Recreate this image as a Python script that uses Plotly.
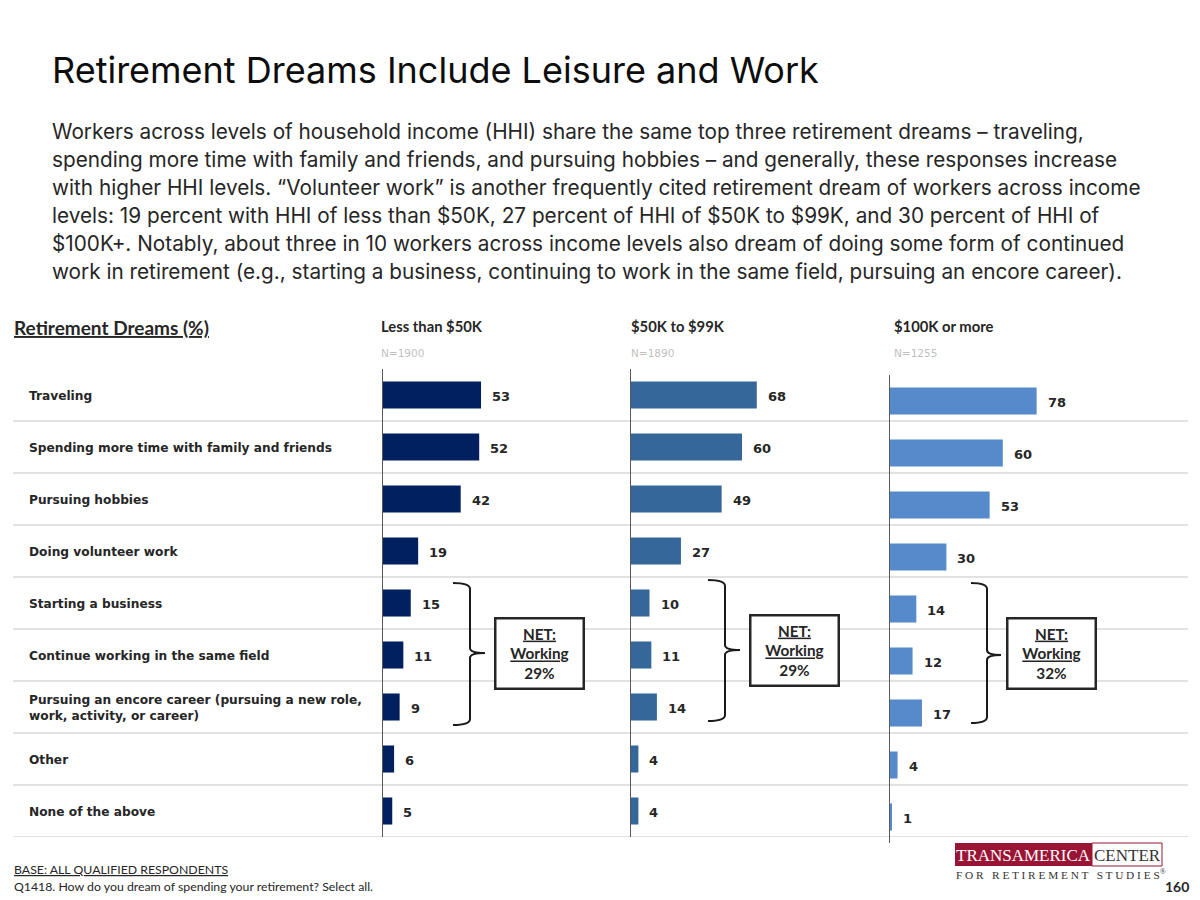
import plotly.graph_objects as go

OFF = 8  # page body margin
W, H = 1200 - OFF, 900 - OFF

categories = [
    "Traveling",
    "Spending more time with family and friends",
    "Pursuing hobbies",
    "Doing volunteer work",
    "Starting a business",
    "Continue working in the same field",
    "Pursuing an encore career (pursuing a new role,<br>work, activity, or career)",
    "Other",
    "None of the above",
]
less_50k = [53, 52, 42, 19, 15, 11, 9, 6, 5]
k50_99 = [68, 60, 49, 27, 10, 11, 14, 4, 4]
k100_plus = [78, 60, 53, 30, 14, 12, 17, 4, 1]
group_names = ["Less than $50K", "$50K to $99K", "$100K or more"]
group_n = ["N=1900", "N=1890", "N=1255"]
net_working = [29, 29, 32]
colors = ["#002060", "#35679B", "#558BCB"]

title = "Retirement Dreams Include Leisure and Work"
paragraph = [
    "Workers across levels of household income (HHI) share the same top three retirement dreams \u2013 traveling,",
    "spending more time with family and friends, and pursuing hobbies \u2013 and generally, these responses increase",
    "with higher HHI levels. \u201cVolunteer work\u201d is another frequently cited retirement dream of workers across income",
    "levels: 19 percent with HHI of less than $50K, 27 percent of HHI of $50K to $99K, and 30 percent of HHI of",
    "$100K+. Notably, about three in 10 workers across income levels also dream of doing some form of continued",
    "work in retirement (e.g., starting a business, continuing to work in the same field, pursuing an encore career).",
]


def px(x):
    return (x - OFF) / W


def py(y):
    return 1 - (y - OFF) / H


series = [less_50k, k50_99, k100_plus]
# layout geometry (pixels, screen coordinates)
x_left = [383, 631, 890]
x_scale = [1.85, 1.85, 1.88]
y_top = [369, 369, 375]
row_h = 52
n = len(categories)

fig = go.Figure()
for i, vals in enumerate(series):
    xa = "x" if i == 0 else f"x{i+1}"
    ya = "y" if i == 0 else f"y{i+1}"
    fig.add_trace(go.Bar(
        x=vals, y=categories, orientation="h", xaxis=xa, yaxis=ya,
        marker=dict(color=colors[i], line=dict(width=0)), width=0.52,
        hoverinfo="skip", showlegend=False,
    ))
    for c, v in zip(categories, vals):
        fig.add_annotation(
            x=v, y=c, xref=xa, yref=ya, text=f"<b>{v}</b>", showarrow=False,
            xanchor="left", xshift=9, yshift=-1,
            font=dict(family="DejaVu Sans", size=13, color="#262626"),
        )

layout = dict(
    width=W, height=H, margin=dict(l=0, r=0, t=0, b=0),
    paper_bgcolor="white", plot_bgcolor="rgba(0,0,0,0)", bargap=0.48,
)
for i in range(3):
    xk = "xaxis" if i == 0 else f"xaxis{i+1}"
    yk = "yaxis" if i == 0 else f"yaxis{i+1}"
    xa = "x" if i == 0 else f"x{i+1}"
    ya = "y" if i == 0 else f"y{i+1}"
    layout[xk] = dict(
        domain=[px(x_left[i]), px(x_left[i] + 100 * x_scale[i])], range=[0, 100],
        showgrid=False, zeroline=False, showticklabels=False, showline=False,
        anchor=ya, fixedrange=True,
    )
    layout[yk] = dict(
        domain=[py(y_top[i] + n * row_h), py(y_top[i])],
        categoryorder="array", categoryarray=categories,
        range=[n - 0.5, -0.5], showgrid=False, zeroline=False,
        showticklabels=False, showline=True, linecolor="#595959", linewidth=1.3,
        anchor=xa, fixedrange=True,
    )
fig.update_layout(**layout)

# row separators
for k in range(n):
    fig.add_shape(type="line", xref="paper", yref="y", x0=px(13), x1=px(1188),
                  y0=k + 0.5, y1=k + 0.5, line=dict(color="#D9D9D9", width=1.3), layer="below")

# category labels
for c in categories:
    fig.add_annotation(
        x=px(27), y=c, xref="paper", yref="y", text=f"<b>{c}</b>", showarrow=False,
        xanchor="left", align="left", yshift=-1,
        font=dict(family="DejaVu Sans", size=12.2, color="#262626"),
    )

# title & paragraph
fig.add_annotation(x=px(50), y=py(70), xref="paper", yref="paper", text=title,
                   showarrow=False, xanchor="left", yanchor="middle",
                   font=dict(family="Inter", size=36, color="#0D0D0D"))
for j, line in enumerate(paragraph):
    fig.add_annotation(x=px(50), y=py(131 + j * 28.2), xref="paper", yref="paper", text=line,
                       showarrow=False, xanchor="left", yanchor="middle",
                       font=dict(family="Inter", size=20.75, color="#262626"))

# section header
fig.add_annotation(x=px(12), y=py(328), xref="paper", yref="paper",
                   text="<b><u>Retirement Dreams (%)</u></b>", showarrow=False,
                   xanchor="left", yanchor="middle",
                   font=dict(family="Lato", size=19, color="#262626"))

header_x = [379, 629, 892]
for i in range(3):
    fig.add_annotation(x=px(header_x[i]), y=py(326), xref="paper", yref="paper",
                       text=f"<b>{group_names[i]}</b>", showarrow=False, xanchor="left",
                       yanchor="middle", font=dict(family="Lato", size=14.8, color="#262626"))
    fig.add_annotation(x=px(header_x[i]), y=py(353), xref="paper", yref="paper",
                       text=group_n[i], showarrow=False, xanchor="left",
                       yanchor="middle", font=dict(family="DejaVu Sans", size=10.5, color="#BFBFBF"))

# brackets & NET boxes
brackets = [
    dict(x0=453, xv=470, xt=485, y0=583, ym=653, y1=725, bx=539.5, by=653),
    dict(x0=708, xv=725, xt=740, y0=580, ym=650, y1=721, bx=794.5, by=650),
    dict(x0=971, xv=987, xt=1001, y0=583, ym=655, y1=723, bx=1051.5, by=653),
]
for i, b in enumerate(brackets):
    X = lambda v: f"{px(v):.5f}"
    Y = lambda v: f"{py(v):.5f}"
    path = (f"M{X(b['x0'])},{Y(b['y0'])} Q{X(b['xv'])},{Y(b['y0'])} {X(b['xv'])},{Y(b['y0']+6)} "
            f"L{X(b['xv'])},{Y(b['ym']-5)} Q{X(b['xv'])},{Y(b['ym'])} {X(b['xt'])},{Y(b['ym'])} "
            f"Q{X(b['xv'])},{Y(b['ym'])} {X(b['xv'])},{Y(b['ym']+5)} "
            f"L{X(b['xv'])},{Y(b['y1']-6)} Q{X(b['xv'])},{Y(b['y1'])} {X(b['x0'])},{Y(b['y1'])}")
    fig.add_shape(type="path", path=path, xref="paper", yref="paper",
                  line=dict(color="#1A1A1A", width=2))
    fig.add_annotation(x=px(b["bx"]), y=py(b["by"]), xref="paper", yref="paper",
                       text=f"<b><u>NET:</u></b><br><b><u>Working</u></b><br><b>{net_working[i]}%</b>",
                       showarrow=False, xanchor="center", yanchor="middle", align="center",
                       width=86, height=68, bordercolor="#262626", borderwidth=2.5, borderpad=0,
                       bgcolor="white",
                       font=dict(family="Lato", size=15.3, color="#262626"))

# footer
fig.add_annotation(x=px(12), y=py(869), xref="paper", yref="paper",
                   text="<u>BASE: ALL QUALIFIED RESPONDENTS</u>", showarrow=False,
                   xanchor="left", yanchor="middle",
                   font=dict(family="Lato", size=12.3, color="#262626"))
fig.add_annotation(x=px(12), y=py(886), xref="paper", yref="paper",
                   text="Q1418. How do you dream of spending your retirement? Select all.",
                   showarrow=False, xanchor="left", yanchor="middle",
                   font=dict(family="Lato", size=12.3, color="#262626"))
fig.add_annotation(x=px(1191), y=py(886), xref="paper", yref="paper",
                   text="<b>160</b>", showarrow=False, xanchor="right", yanchor="middle",
                   font=dict(family="Lato", size=14, color="#262626"))

# logo
fig.add_shape(type="rect", xref="paper", yref="paper", x0=px(955), x1=px(1092),
              y0=py(866), y1=py(843), fillcolor="#9A1535", line=dict(width=0))
fig.add_shape(type="rect", xref="paper", yref="paper", x0=px(1092), x1=px(1162),
              y0=py(866), y1=py(843), fillcolor="white", line=dict(color="#9A1535", width=1))
fig.add_annotation(x=px(1023.5), y=py(855), xref="paper", yref="paper", text="TRANSAMERICA",
                   showarrow=False, xanchor="center", yanchor="middle",
                   font=dict(family="Liberation Serif", size=17, color="white"))
fig.add_annotation(x=px(1127), y=py(855), xref="paper", yref="paper", text="CENTER",
                   showarrow=False, xanchor="center", yanchor="middle",
                   font=dict(family="Liberation Serif", size=17, color="#333333"))
fig.add_annotation(x=px(954), y=py(874), xref="paper", yref="paper",
                   text="F O R &nbsp; R E T I R E M E N T &nbsp; S T U D I E S<sup>®</sup>",
                   showarrow=False, xanchor="left", yanchor="middle",
                   font=dict(family="Liberation Serif", size=11.3, color="#333333"))

fig.write_html("out.html")
